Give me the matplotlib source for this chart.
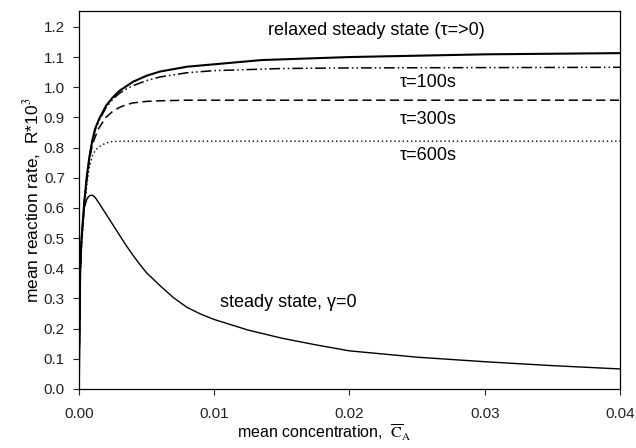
import matplotlib
matplotlib.use("Agg")
import matplotlib.pyplot as plt

plt.rcParams['font.family'] = ['Liberation Sans', 'DejaVu Sans']
plt.rcParams['mathtext.fontset'] = 'stix'

# relaxed steady state (tau => 0)
x_relax = [0.0, 0.0001, 0.0002, 0.0004, 0.0006, 0.0008, 0.001, 0.0012, 0.0015, 0.002,
           0.0025, 0.003, 0.0035, 0.004, 0.005, 0.006, 0.008, 0.01, 0.0135, 0.02,
           0.03, 0.04]
y_relax = [0.0, 0.40, 0.50, 0.62, 0.71, 0.775, 0.825, 0.862, 0.895, 0.938,
           0.966, 0.988, 1.003, 1.018, 1.038, 1.052, 1.068, 1.076, 1.09, 1.10,
           1.109, 1.113]

# tau = 100 s
x_100 = [0.0, 0.0001, 0.0002, 0.0004, 0.0006, 0.0008, 0.001, 0.0012, 0.0015, 0.002,
         0.0025, 0.003, 0.0035, 0.004, 0.005, 0.006, 0.008, 0.01, 0.015, 0.02,
         0.03, 0.04]
y_100 = [0.0, 0.40, 0.50, 0.62, 0.71, 0.773, 0.822, 0.858, 0.89, 0.932,
         0.96, 0.98, 0.994, 1.005, 1.022, 1.034, 1.048, 1.055, 1.062, 1.064,
         1.065, 1.066]

# tau = 300 s
x_300 = [0.0, 0.0001, 0.0002, 0.0004, 0.0006, 0.0008, 0.001, 0.0012, 0.0015, 0.002,
         0.0025, 0.003, 0.0035, 0.004, 0.005, 0.006, 0.008, 0.02, 0.04]
y_300 = [0.0, 0.39, 0.49, 0.61, 0.70, 0.765, 0.808, 0.835, 0.866, 0.90,
         0.92, 0.933, 0.942, 0.948, 0.953, 0.955, 0.957, 0.957, 0.957]

# tau = 600 s
x_600 = [0.0, 0.0001, 0.0002, 0.0004, 0.0006, 0.0008, 0.001, 0.0012, 0.0015, 0.002,
         0.0025, 0.003, 0.005, 0.01, 0.02, 0.04]
y_600 = [0.0, 0.36, 0.47, 0.60, 0.68, 0.74, 0.772, 0.79, 0.803, 0.815,
         0.82, 0.821, 0.821, 0.821, 0.821, 0.821]

# steady state, gamma = 0
x_ss = [0.0, 0.0001, 0.0002, 0.0004, 0.0006, 0.0008, 0.001, 0.0012, 0.0015, 0.002,
        0.0025, 0.003, 0.0035, 0.004, 0.0045, 0.005, 0.006, 0.007, 0.008, 0.009,
        0.01, 0.0125, 0.015, 0.0175, 0.02, 0.025, 0.03, 0.035, 0.04]
y_ss = [0.0, 0.38, 0.50, 0.60, 0.63, 0.641, 0.642, 0.635, 0.615, 0.58,
        0.545, 0.51, 0.475, 0.443, 0.413, 0.385, 0.342, 0.302, 0.27, 0.248,
        0.23, 0.195, 0.168, 0.146, 0.126, 0.105, 0.09, 0.077, 0.066]

fig = plt.figure(figsize=(6.36, 4.48), dpi=100)
ax = fig.add_axes([0.124, 0.132, 0.851, 0.843])

ax.plot(x_relax, y_relax, color='black', lw=1.5, ls='-')
ax.plot(x_100, y_100, color='black', lw=1.1, dashes=(7, 2, 1, 2, 1, 2))
ax.plot(x_300, y_300, color='black', lw=1.1, dashes=(6, 3))
ax.plot(x_600, y_600, color='black', lw=1.0, dashes=(1, 2))
ax.plot(x_ss, y_ss, color='black', lw=1.0, ls='-')

fs = 13
ax.text(0.02196, 1.189, 'relaxed steady state (τ=>0)', ha='center', va='center', fontsize=fs)
ax.text(0.0258, 1.017, 'τ=100s', ha='center', va='center', fontsize=fs)
ax.text(0.0258, 0.893, 'τ=300s', ha='center', va='center', fontsize=fs)
ax.text(0.0258, 0.772, 'τ=600s', ha='center', va='center', fontsize=fs)
ax.text(0.01547, 0.286, 'steady state, γ=0', ha='center', va='center', fontsize=fs)

ax.set_xlim(0, 0.04)
ax.set_ylim(0, 1.252)
ax.set_xticks([0.0, 0.01, 0.02, 0.03, 0.04])
ax.set_xticklabels(['0.00', '0.01', '0.02', '0.03', '0.04'])
ax.set_yticks([i / 10 for i in range(13)])
ax.set_yticklabels(['%.1f' % (i / 10) for i in range(13)])
ax.tick_params(direction='out', length=4, width=0.8, labelsize=11, colors='#222222')
ax.tick_params(axis='y', pad=6)
ax.tick_params(axis='x', pad=9)

ax.set_ylabel(r'mean reaction rate,  R*10$^3$', fontsize=12.5)
ax.yaxis.set_label_coords(-0.066, 0.5)

fig.text(324 / 636, 1 - 438.5 / 448,
         r'mean concentration,  $\overline{\mathrm{C}}_{\mathrm{A}}$',
         ha='center', va='baseline', fontsize=11.5)

for s in ax.spines.values():
    s.set_linewidth(0.9)

fig.savefig('out.png', dpi=100)
